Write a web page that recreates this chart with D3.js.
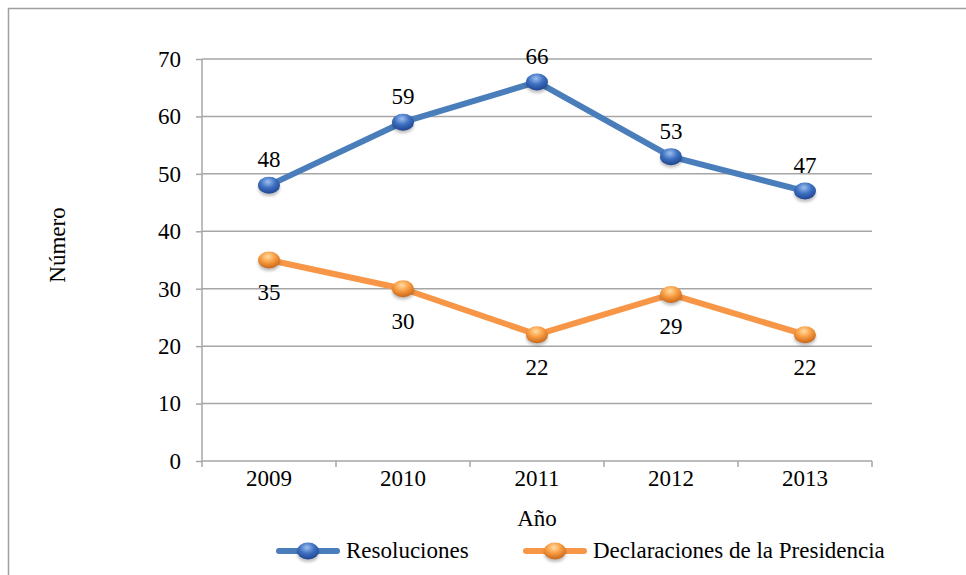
<!DOCTYPE html>
<html lang="es">
<head>
	<meta charset="UTF-8">
	<title>Resoluciones y declaraciones</title>
	<script src="https://cdn.jsdelivr.net/npm/d3@7"></script>
	<style>
		body { margin: 0; background: #fff; }
	</style>
</head>
<body>
<script type="text/javascript">

	var years = ['2009', '2010', '2011', '2012', '2013'];
	var resoluciones = [48, 59, 66, 53, 47];
	var declaraciones = [35, 30, 22, 29, 22];
	var yTicks = [0, 10, 20, 30, 40, 50, 60, 70];

	var FONT = "'Liberation Serif'";
	var FS = '23px';

	var W = 966, H = 575;
	var margin = {top: 59, left: 202, right: 94, bottom: 114};
	var width = W - margin.left - margin.right;
	var height = H - margin.top - margin.bottom;

	var svg = d3.select('body').append('svg')
		.attr('width', W)
		.attr('height', H);

	// outer frame
	svg.append('rect')
		.attr('x', 8.5).attr('y', 8.5)
		.attr('width', W).attr('height', H)
		.attr('fill', 'none')
		.attr('stroke', '#a0a0a0')
		.attr('stroke-width', 1.5);

	var defs = svg.append('defs');
	function grad(id, light, mid, dark) {
		var gr = defs.append('radialGradient').attr('id', id)
			.attr('cx', '45%').attr('cy', '30%').attr('r', '70%');
		gr.append('stop').attr('offset', '0%').attr('stop-color', light);
		gr.append('stop').attr('offset', '50%').attr('stop-color', mid);
		gr.append('stop').attr('offset', '100%').attr('stop-color', dark);
	}
	grad('gBlue', '#9cc0f0', '#3d6fc0', '#1f4590');
	grad('gOrange', '#ffdca0', '#f89a40', '#c8661a');
	defs.append('filter').attr('id', 'blur')
		.append('feGaussianBlur').attr('stdDeviation', 1.6);

	var g = svg.append('g')
		.attr('transform', 'translate(' + margin.left + ',' + margin.top + ')');

	var x = d3.scaleBand().domain(years).range([0, width]);
	var y = d3.scaleLinear().domain([0, 70]).range([height, 0]);

	// gridlines
	g.append('g').selectAll('line')
		.data(yTicks.slice(1))
		.enter().append('line')
		.attr('x1', 0).attr('x2', width)
		.attr('y1', function (d) { return y(d); })
		.attr('y2', function (d) { return y(d); })
		.attr('stroke', '#a6a6a6')
		.attr('stroke-width', 1.5);

	var axisY = g.append('g')
		.call(d3.axisLeft(y).tickValues(yTicks).tickSize(6).tickPadding(15));
	var axisX = g.append('g')
		.attr('transform', 'translate(0,' + height + ')')
		.call(d3.axisBottom(x).tickSize(0).tickPadding(9));

	// ticks on the band boundaries
	axisX.selectAll('.bound')
		.data(d3.range(years.length + 1))
		.enter().append('line')
		.attr('class', 'bound')
		.attr('x1', function (i) { return i * x.step(); })
		.attr('x2', function (i) { return i * x.step(); })
		.attr('y1', 0).attr('y2', 6)
		.attr('stroke', '#a6a6a6')
		.attr('stroke-width', 1.5);

	[axisX, axisY].forEach(function (a) {
		a.attr('font-family', null).attr('font-size', null);
		a.selectAll('.domain').attr('stroke', '#a6a6a6').attr('stroke-width', 1.5);
		a.selectAll('.tick line').attr('stroke', '#a6a6a6').attr('stroke-width', 1.5);
		a.selectAll('text')
			.style('font-family', FONT)
			.style('font-size', FS)
			.attr('fill', '#000');
	});
	axisY.select('.domain').attr('d', 'M0,' + height + 'V0');
	axisX.select('.domain').attr('d', 'M0,0H' + width);

	function cx(d, i) { return x(years[i]) + x.bandwidth() / 2; }

	var series = [
		{values: resoluciones, color: '#4a7ebb', fill: 'url(#gBlue)', dy: -18},
		{values: declaraciones, color: '#f79646', fill: 'url(#gOrange)', dy: 40}
	];

	var line = d3.line()
		.x(cx)
		.y(function (d) { return y(d); });

	function marker(sel, fill) {
		sel.append('ellipse')
			.attr('cx', 0).attr('cy', 3)
			.attr('rx', 11).attr('ry', 8)
			.attr('fill', '#000').attr('opacity', 0.25)
			.attr('filter', 'url(#blur)');
		sel.append('ellipse')
			.attr('cx', 0).attr('cy', 0)
			.attr('rx', 11).attr('ry', 8.5)
			.attr('fill', fill);
	}

	series.forEach(function (s) {
		g.append('path')
			.datum(s.values)
			.attr('d', line)
			.attr('fill', 'none')
			.attr('stroke', s.color)
			.attr('stroke-width', 6)
			.attr('stroke-linejoin', 'round');

		g.append('g').selectAll('g')
			.data(s.values)
			.enter().append('g')
			.attr('transform', function (d, i) {
				return 'translate(' + cx(d, i) + ',' + y(d) + ')';
			})
			.each(function () { marker(d3.select(this), s.fill); });

		g.append('g').selectAll('text')
			.data(s.values)
			.enter().append('text')
			.attr('x', cx)
			.attr('y', function (d) { return y(d) + s.dy; })
			.attr('text-anchor', 'middle')
			.style('font-family', FONT)
			.style('font-size', FS)
			.text(function (d) { return d; });
	});

	// axis titles
	svg.append('text')
		.attr('transform', 'translate(65,245) rotate(-90)')
		.attr('text-anchor', 'middle')
		.style('font-family', FONT)
		.style('font-size', FS)
		.text('Número');

	svg.append('text')
		.attr('x', margin.left + width / 2)
		.attr('y', 526)
		.attr('text-anchor', 'middle')
		.style('font-family', FONT)
		.style('font-size', FS)
		.text('Año');

	// legend
	var legend = svg.append('g').attr('transform', 'translate(0,551)');
	var items = [
		{label: 'Resoluciones', x: 279, s: series[0]},
		{label: 'Declaraciones de la Presidencia', x: 526, s: series[1]}
	];
	items.forEach(function (it) {
		var li = legend.append('g').attr('transform', 'translate(' + it.x + ',0)');
		li.append('line')
			.attr('x1', 0).attr('x2', 58)
			.attr('stroke', it.s.color)
			.attr('stroke-width', 6)
			.attr('stroke-linecap', 'round');
		marker(li.append('g').attr('transform', 'translate(29,0)'), it.s.fill);
		li.append('text')
			.attr('x', 67).attr('y', 7)
			.style('font-family', FONT)
			.style('font-size', FS)
			.text(it.label);
	});

</script>
</body>
</html>
